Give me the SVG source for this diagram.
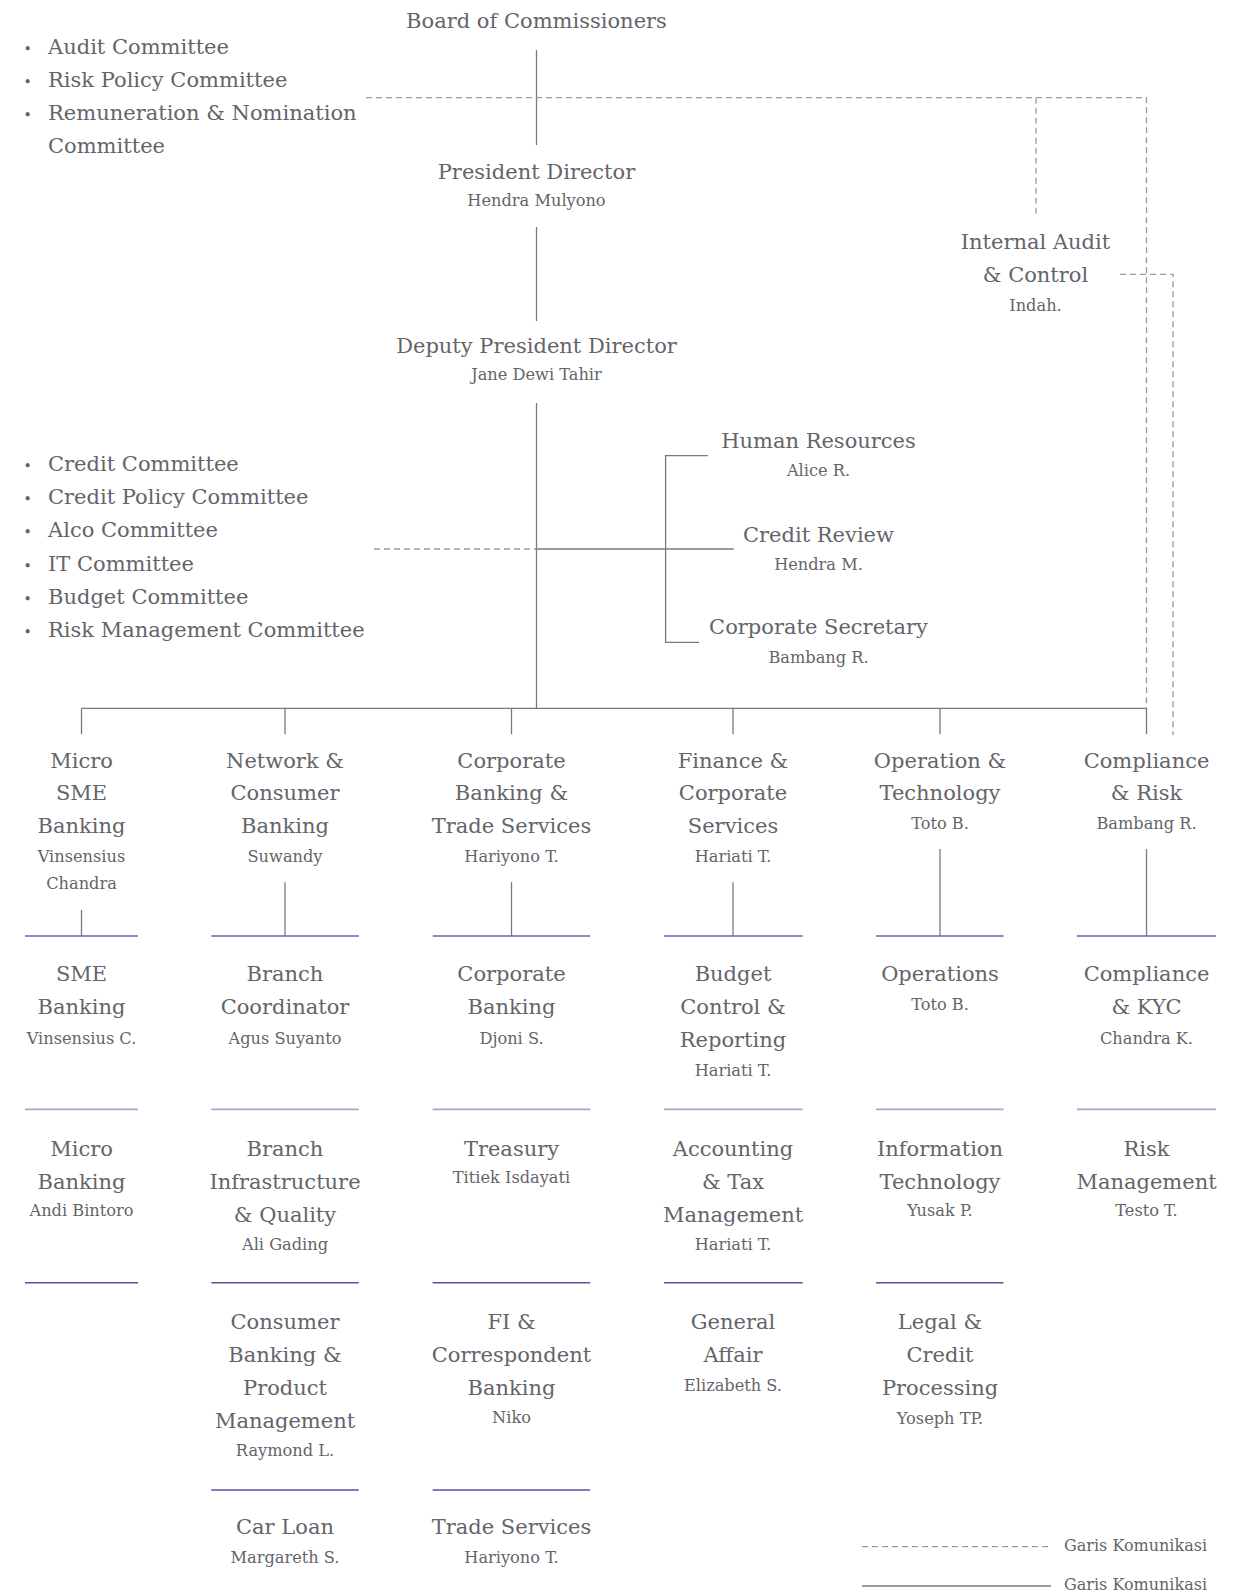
<svg xmlns="http://www.w3.org/2000/svg" width="1255" height="1595" viewBox="0 0 1255 1595">
<style>
text{font-family:"DejaVu Serif","Liberation Serif",serif;fill:#646469}
.t{font-size:21px;text-anchor:middle}
.n{font-size:16.2px;text-anchor:middle}
.c{font-size:21px}
.b{font-size:14px}
.lg{font-size:16px}
.s{fill:none;stroke:#7a7a7e;stroke-width:1.3}
.d{fill:none;stroke:#9a9a9e;stroke-width:1.3;stroke-dasharray:6 4}
.p1{stroke:#6a63b8;stroke-width:1.6}
.p2{stroke:#a8a4d2;stroke-width:1.8}
.p3{stroke:#5550a8;stroke-width:1.6}
</style>
<rect width="1255" height="1595" fill="#ffffff"/>

<g id="connectors">
  <path class="s" d="M536.5 50V145M536.5 227V321M536.5 403V708.3"/>
  <path class="s" d="M81.5 708.3H1146.5"/>
  <path class="s" d="M81.5 708.3V734.3M285 708.3V734.3M511.5 708.3V734.3M733 708.3V734.3M940 708.3V734.3M1146.5 708.3V734.3"/>
  <path class="d" d="M366 97.7H1146.5V708.3"/>
  <path class="d" d="M1036 97.7V217"/>
  <path class="d" d="M1120 274.3H1173V735"/>
  <path class="d" d="M374 549H536.5"/>
  <path class="s" d="M536.5 549H733.7"/>
  <path class="s" d="M707.8 455.7H665.6V642.3H699"/>
  <path class="s" d="M81.5 910V936M285 882.3V936M511.5 882.3V936M733 882.3V936M940 849V936M1146.5 849V936"/>
  <g class="p1">
    <path d="M25 936H138M211.3 936H358.8M432.7 936H590.2M664 936H802.7M876 936H1003.5M1076.8 936H1215.8"/>
  </g>
  <g class="p2">
    <path d="M25 1109.3H138M211.3 1109.3H358.8M432.7 1109.3H590.2M664 1109.3H802.7M876 1109.3H1003.5M1076.8 1109.3H1215.8"/>
  </g>
  <g class="p3">
    <path d="M25 1282.7H138M211.3 1282.7H358.8M432.7 1282.7H590.2M664 1282.7H802.7M876 1282.7H1003.5"/>
    <path d="M211.3 1490H358.8M432.7 1490H590.2"/>
  </g>
</g>

<g id="board"><text class="t" x="536.5" y="28">Board of Commissioners</text></g>

<g id="board-committees">
  <text class="b" x="27.7" y="54" text-anchor="middle">•</text>
  <text class="b" x="27.7" y="87" text-anchor="middle">•</text>
  <text class="b" x="27.7" y="120" text-anchor="middle">•</text>
  <text class="c" x="48" y="54">Audit Committee</text>
  <text class="c" x="48" y="87">Risk Policy Committee</text>
  <text class="c" x="48" y="120">Remuneration &amp; Nomination</text>
  <text class="c" x="48" y="153">Committee</text>
</g>

<g id="president"><text class="t" x="536.5" y="178.5">President Director</text><text class="n" x="536.5" y="206">Hendra Mulyono</text></g>

<g id="internal-audit"><text class="t" x="1035.5" y="249">Internal Audit</text><text class="t" x="1035.5" y="282">&amp; Control</text><text class="n" x="1035.5" y="311">Indah.</text></g>

<g id="deputy"><text class="t" x="536.5" y="352.5">Deputy President Director</text><text class="n" x="536.5" y="380">Jane Dewi Tahir</text></g>

<g id="director-committees">
  <text class="b" x="27.7" y="471" text-anchor="middle">•</text>
  <text class="b" x="27.7" y="504.2" text-anchor="middle">•</text>
  <text class="b" x="27.7" y="537.4" text-anchor="middle">•</text>
  <text class="b" x="27.7" y="570.6" text-anchor="middle">•</text>
  <text class="b" x="27.7" y="603.8" text-anchor="middle">•</text>
  <text class="b" x="27.7" y="637" text-anchor="middle">•</text>
  <text class="c" x="48" y="471">Credit Committee</text>
  <text class="c" x="48" y="504.2">Credit Policy Committee</text>
  <text class="c" x="48" y="537.4">Alco Committee</text>
  <text class="c" x="48" y="570.6">IT Committee</text>
  <text class="c" x="48" y="603.8">Budget Committee</text>
  <text class="c" x="48" y="637">Risk Management Committee</text>
</g>

<g id="human-resources"><text class="t" x="818.5" y="447.5">Human Resources</text><text class="n" x="818.5" y="476">Alice R.</text></g>
<g id="credit-review"><text class="t" x="818.5" y="542">Credit Review</text><text class="n" x="818.5" y="570">Hendra M.</text></g>
<g id="corporate-secretary"><text class="t" x="818.5" y="634">Corporate Secretary</text><text class="n" x="818.5" y="662.5">Bambang R.</text></g>

<g id="micro-sme-banking"><text class="t" x="81.5" y="767.5">Micro</text><text class="t" x="81.5" y="800">SME</text><text class="t" x="81.5" y="832.5">Banking</text><text class="n" x="81.5" y="861.5">Vinsensius</text><text class="n" x="81.5" y="889.3">Chandra</text></g>
<g id="network-consumer-banking"><text class="t" x="285" y="767.5">Network &amp;</text><text class="t" x="285" y="800">Consumer</text><text class="t" x="285" y="832.5">Banking</text><text class="n" x="285" y="861.5">Suwandy</text></g>
<g id="corporate-banking-trade"><text class="t" x="511.5" y="767.5">Corporate</text><text class="t" x="511.5" y="800">Banking &amp;</text><text class="t" x="511.5" y="832.5">Trade Services</text><text class="n" x="511.5" y="861.5">Hariyono T.</text></g>
<g id="finance-corporate-services"><text class="t" x="733" y="767.5">Finance &amp;</text><text class="t" x="733" y="800">Corporate</text><text class="t" x="733" y="832.5">Services</text><text class="n" x="733" y="861.5">Hariati T.</text></g>
<g id="operation-technology"><text class="t" x="940" y="767.5">Operation &amp;</text><text class="t" x="940" y="800">Technology</text><text class="n" x="940" y="828.5">Toto B.</text></g>
<g id="compliance-risk"><text class="t" x="1146.5" y="767.5">Compliance</text><text class="t" x="1146.5" y="800">&amp; Risk</text><text class="n" x="1146.5" y="828.5">Bambang R.</text></g>

<g id="sme-banking"><text class="t" x="81.5" y="981">SME</text><text class="t" x="81.5" y="1013.8">Banking</text><text class="n" x="81.5" y="1043.8">Vinsensius C.</text></g>
<g id="branch-coordinator"><text class="t" x="285" y="981">Branch</text><text class="t" x="285" y="1013.8">Coordinator</text><text class="n" x="285" y="1043.8">Agus Suyanto</text></g>
<g id="corporate-banking"><text class="t" x="511.5" y="981">Corporate</text><text class="t" x="511.5" y="1013.8">Banking</text><text class="n" x="511.5" y="1043.8">Djoni S.</text></g>
<g id="budget-control"><text class="t" x="733" y="981">Budget</text><text class="t" x="733" y="1013.8">Control &amp;</text><text class="t" x="733" y="1046.8">Reporting</text><text class="n" x="733" y="1076.2">Hariati T.</text></g>
<g id="operations"><text class="t" x="940" y="981">Operations</text><text class="n" x="940" y="1009.5">Toto B.</text></g>
<g id="compliance-kyc"><text class="t" x="1146.5" y="981">Compliance</text><text class="t" x="1146.5" y="1013.8">&amp; KYC</text><text class="n" x="1146.5" y="1043.8">Chandra K.</text></g>

<g id="micro-banking"><text class="t" x="81.5" y="1156">Micro</text><text class="t" x="81.5" y="1188.8">Banking</text><text class="n" x="81.5" y="1216.2">Andi Bintoro</text></g>
<g id="branch-infrastructure"><text class="t" x="285" y="1156">Branch</text><text class="t" x="285" y="1188.8">Infrastructure</text><text class="t" x="285" y="1222">&amp; Quality</text><text class="n" x="285" y="1250.2">Ali Gading</text></g>
<g id="treasury"><text class="t" x="511.5" y="1156">Treasury</text><text class="n" x="511.5" y="1182.8">Titiek Isdayati</text></g>
<g id="accounting-tax"><text class="t" x="733" y="1156">Accounting</text><text class="t" x="733" y="1188.8">&amp; Tax</text><text class="t" x="733" y="1222">Management</text><text class="n" x="733" y="1250.2">Hariati T.</text></g>
<g id="information-technology"><text class="t" x="940" y="1156">Information</text><text class="t" x="940" y="1188.8">Technology</text><text class="n" x="940" y="1216.2">Yusak P.</text></g>
<g id="risk-management"><text class="t" x="1146.5" y="1156">Risk</text><text class="t" x="1146.5" y="1188.8">Management</text><text class="n" x="1146.5" y="1216.2">Testo T.</text></g>

<g id="consumer-banking-product"><text class="t" x="285" y="1328.6">Consumer</text><text class="t" x="285" y="1361.8">Banking &amp;</text><text class="t" x="285" y="1395">Product</text><text class="t" x="285" y="1428.3">Management</text><text class="n" x="285" y="1456.2">Raymond L.</text></g>
<g id="fi-correspondent"><text class="t" x="511.5" y="1328.6">FI &amp;</text><text class="t" x="511.5" y="1361.8">Correspondent</text><text class="t" x="511.5" y="1395">Banking</text><text class="n" x="511.5" y="1423">Niko</text></g>
<g id="general-affair"><text class="t" x="733" y="1328.6">General</text><text class="t" x="733" y="1361.8">Affair</text><text class="n" x="733" y="1390.5">Elizabeth S.</text></g>
<g id="legal-credit"><text class="t" x="940" y="1328.6">Legal &amp;</text><text class="t" x="940" y="1361.8">Credit</text><text class="t" x="940" y="1395">Processing</text><text class="n" x="940" y="1423.8">Yoseph TP.</text></g>

<g id="car-loan"><text class="t" x="285" y="1534.3">Car Loan</text><text class="n" x="285" y="1562.8">Margareth S.</text></g>
<g id="trade-services"><text class="t" x="511.5" y="1534.3">Trade Services</text><text class="n" x="511.5" y="1562.8">Hariyono T.</text></g>

<g id="legend">
  <path class="d" d="M862 1546.7H1049.3"/>
  <path class="s" d="M862 1586H1051"/>
  <text class="lg" x="1064" y="1551.2">Garis Komunikasi</text>
  <text class="lg" x="1064" y="1590.2">Garis Komunikasi</text>
</g>
</svg>
